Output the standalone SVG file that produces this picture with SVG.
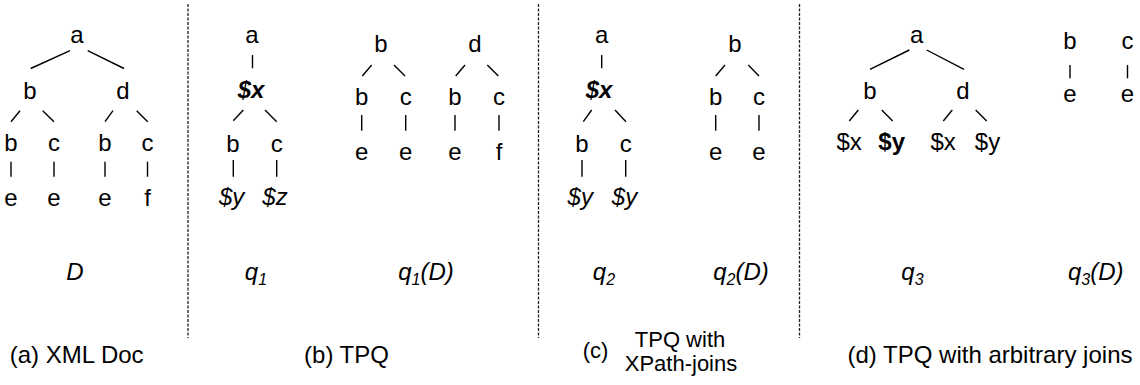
<svg xmlns="http://www.w3.org/2000/svg" width="1140" height="385" viewBox="0 0 1140 385">
<style>
text{font-family:"Liberation Sans",Arial,sans-serif;font-size:24px;fill:#000;}
.n{text-anchor:middle;}
.i{font-style:italic;}
.bi{font-style:italic;font-weight:bold;}
.b{font-weight:bold;}
.sub{font-size:16px;}
.sm{font-size:22px;}
.e line{stroke:#000;stroke-width:1.4;}
.sep{stroke:#222;stroke-width:1.3;stroke-dasharray:3 1.5;}
</style>
<rect width="1140" height="385" fill="#fff"/>
<g id="separators">
<line class="sep" x1="188" y1="4" x2="188" y2="338"/>
<line class="sep" x1="538.5" y1="4" x2="538.5" y2="338"/>
<line class="sep" x1="799.5" y1="4" x2="799.5" y2="338"/>
</g>
<g id="connectors" class="e">
<line x1="70" y1="50.7" x2="30.7" y2="68.5"/>
<line x1="87.7" y1="50.7" x2="124" y2="68.5"/>
<line x1="20" y1="110.7" x2="11" y2="121.7"/>
<line x1="42.7" y1="110.7" x2="54" y2="121.7"/>
<line x1="113" y1="110.7" x2="105" y2="121.7"/>
<line x1="136.7" y1="110.7" x2="147.7" y2="121.7"/>
<line x1="11" y1="161.7" x2="11" y2="176.7"/>
<line x1="54" y1="161.7" x2="54" y2="176.7"/>
<line x1="105" y1="161.7" x2="105" y2="176.7"/>
<line x1="147.5" y1="161.7" x2="147.5" y2="176.7"/>
<line x1="252.5" y1="55" x2="252.5" y2="68.3"/>
<line x1="243.3" y1="110" x2="233.3" y2="120.7"/>
<line x1="265" y1="110" x2="276.7" y2="121.7"/>
<line x1="233.3" y1="160" x2="233.3" y2="176.7"/>
<line x1="276.7" y1="160" x2="276.7" y2="176.7"/>
<line x1="371.7" y1="65" x2="362.3" y2="76"/>
<line x1="394" y1="65" x2="405" y2="76"/>
<line x1="465" y1="65" x2="455.7" y2="76"/>
<line x1="487.3" y1="65" x2="498.3" y2="76"/>
<line x1="361.7" y1="115" x2="361.7" y2="130.7"/>
<line x1="405.7" y1="115" x2="405.7" y2="130.7"/>
<line x1="455" y1="115" x2="455" y2="130.7"/>
<line x1="499" y1="115" x2="499" y2="130.7"/>
<line x1="601.7" y1="55" x2="601.7" y2="68.3"/>
<line x1="591.7" y1="110" x2="583.3" y2="121.7"/>
<line x1="615" y1="110" x2="626" y2="121.7"/>
<line x1="582" y1="160" x2="582" y2="176.7"/>
<line x1="625.7" y1="160" x2="625.7" y2="176.7"/>
<line x1="725" y1="65" x2="715.7" y2="76"/>
<line x1="748.3" y1="65" x2="759" y2="76"/>
<line x1="715.7" y1="115" x2="715.7" y2="130.7"/>
<line x1="759" y1="115" x2="759" y2="130.7"/>
<line x1="909.3" y1="50" x2="870" y2="69.3"/>
<line x1="926.7" y1="50" x2="964" y2="69.3"/>
<line x1="858.3" y1="110" x2="849.3" y2="121"/>
<line x1="881.7" y1="110" x2="892.7" y2="121"/>
<line x1="952.3" y1="110" x2="943.3" y2="121"/>
<line x1="975.7" y1="110" x2="986.7" y2="121"/>
<line x1="1070" y1="65" x2="1070" y2="78.3"/>
<line x1="1127.5" y1="65" x2="1127.5" y2="78.3"/>
</g>
<g id="treeD">
<text id="D-a" class="n" x="77" y="43">a</text>
<text id="D-b" class="n" x="30" y="98.5">b</text>
<text id="D-d" class="n" x="123" y="98.5">d</text>
<text id="D-bb" class="n" x="11" y="150.7">b</text>
<text id="D-bc" class="n" x="54" y="150.7">c</text>
<text id="D-db" class="n" x="105" y="150.7">b</text>
<text id="D-dc" class="n" x="147.5" y="150.7">c</text>
<text id="D-bbe" class="n" x="11" y="206">e</text>
<text id="D-bce" class="n" x="54" y="206">e</text>
<text id="D-dbe" class="n" x="105" y="206">e</text>
<text id="D-dcf" class="n" x="147.5" y="206">f</text>
</g>
<g id="treeQ1">
<text id="q1-a" class="n" x="252" y="43">a</text>
<text id="q1-x" class="n bi" x="251" y="98">$x</text>
<text id="q1-b" class="n" x="233" y="151.7">b</text>
<text id="q1-c" class="n" x="276.7" y="151.7">c</text>
<text id="q1-y" class="n i" x="231.7" y="205">$y</text>
<text id="q1-z" class="n i" x="275" y="205">$z</text>
</g>
<g id="treeQ1D">
<text id="q1D-b" class="n" x="381" y="51.7">b</text>
<text id="q1D-d" class="n" x="475" y="51.7">d</text>
<text id="q1D-bb" class="n" x="361.7" y="105">b</text>
<text id="q1D-bc" class="n" x="405.7" y="105">c</text>
<text id="q1D-db" class="n" x="455" y="105">b</text>
<text id="q1D-dc" class="n" x="499" y="105">c</text>
<text id="q1D-e1" class="n" x="361.7" y="160">e</text>
<text id="q1D-e2" class="n" x="405.7" y="160">e</text>
<text id="q1D-e3" class="n" x="455" y="160">e</text>
<text id="q1D-f" class="n" x="499" y="160">f</text>
</g>
<g id="treeQ2">
<text id="q2-a" class="n" x="601.7" y="43">a</text>
<text id="q2-x" class="n bi" x="599" y="98">$x</text>
<text id="q2-b" class="n" x="582" y="151.7">b</text>
<text id="q2-c" class="n" x="625.7" y="151.7">c</text>
<text id="q2-y1" class="n i" x="580.3" y="205">$y</text>
<text id="q2-y2" class="n i" x="624.5" y="205">$y</text>
</g>
<g id="treeQ2D">
<text id="q2D-b" class="n" x="735" y="51.7">b</text>
<text id="q2D-bb" class="n" x="715.7" y="105">b</text>
<text id="q2D-bc" class="n" x="759" y="105">c</text>
<text id="q2D-e1" class="n" x="715.7" y="160">e</text>
<text id="q2D-e2" class="n" x="759" y="160">e</text>
</g>
<g id="treeQ3">
<text id="q3-a" class="n" x="916.7" y="43">a</text>
<text id="q3-b" class="n" x="870" y="99">b</text>
<text id="q3-d" class="n" x="963" y="99">d</text>
<text id="q3-bx" class="n" x="849.2" y="150">$x</text>
<text id="q3-by" class="n b" x="891.7" y="150">$y</text>
<text id="q3-dx" class="n" x="943.2" y="150">$x</text>
<text id="q3-dy" class="n" x="987.5" y="150">$y</text>
</g>
<g id="treeQ3D">
<text id="q3D-b" class="n" x="1070" y="49">b</text>
<text id="q3D-c" class="n" x="1127.5" y="49">c</text>
<text id="q3D-e1" class="n" x="1070" y="101.7">e</text>
<text id="q3D-e2" class="n" x="1127.5" y="101.7">e</text>
</g>
<g id="names">
<text class="n i" x="75" y="280">D</text>
<text class="n i" x="256" y="280">q<tspan class="sub" dy="5">1</tspan></text>
<text class="n i" x="426" y="280">q<tspan class="sub" dy="5">1</tspan><tspan dy="-5">(D)</tspan></text>
<text class="n i" x="604" y="280">q<tspan class="sub" dy="5">2</tspan></text>
<text class="n i" x="741" y="280">q<tspan class="sub" dy="5">2</tspan><tspan dy="-5">(D)</tspan></text>
<text class="n i" x="912.5" y="280">q<tspan class="sub" dy="5">3</tspan></text>
<text class="n i" x="1095.7" y="280">q<tspan class="sub" dy="5">3</tspan><tspan dy="-5">(D)</tspan></text>
</g>
<g id="captions">
<text class="n" x="76.7" y="363">(a) XML Doc</text>
<text class="n" x="346.5" y="363">(b) TPQ</text>
<text class="sm" x="582.7" y="358">(c)</text>
<text class="n sm" x="680" y="347">TPQ with</text>
<text class="n sm" x="681" y="371">XPath-joins</text>
<text class="n" x="990" y="363">(d) TPQ with arbitrary joins</text>
</g>
</svg>
